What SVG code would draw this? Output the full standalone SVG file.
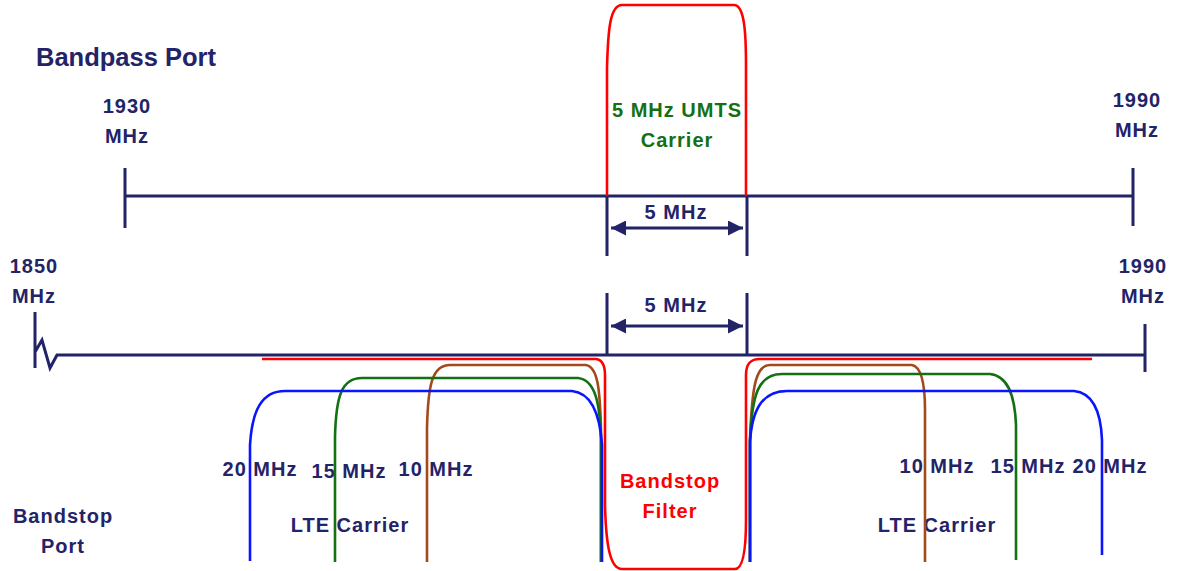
<svg xmlns="http://www.w3.org/2000/svg" width="1186" height="571" viewBox="0 0 1186 571">
<style>
.t{font-family:"Liberation Sans",Arial,sans-serif;font-weight:bold;font-size:20px;letter-spacing:1px;fill:#232368;text-anchor:middle}
.ax{stroke:#232368;stroke-width:3;fill:none}
.c{fill:none;stroke-width:2.6;stroke-linejoin:round}
.r{stroke:#ff0000}.g{stroke:#137013}.b{stroke:#0a14ff}.o{stroke:#a24a1c}
</style>
<defs>
<marker id="ah" viewBox="0 0 10 10" refX="10" refY="5" markerWidth="5" markerHeight="5" orient="auto-start-reverse" markerUnits="strokeWidth">
<path d="M0,0 L10,5 L0,10 z" fill="#232368"/>
</marker>
</defs>
<rect width="1186" height="571" fill="#fff"/>
<g id="labels">
<text x="36" y="66" class="t" style="font-size:25.5px;letter-spacing:0;text-anchor:start">Bandpass Port</text>
<text x="127" y="113" class="t">1930</text>
<text x="127" y="143" class="t">MHz</text>
<text x="1137" y="107" class="t">1990</text>
<text x="1137" y="137" class="t">MHz</text>
<text x="34" y="273" class="t">1850</text>
<text x="34" y="303" class="t">MHz</text>
<text x="1143" y="273" class="t">1990</text>
<text x="1143" y="303" class="t">MHz</text>
<text x="63" y="523" class="t">Bandstop</text>
<text x="63" y="553" class="t">Port</text>
<text x="260" y="476" class="t">20 MHz</text>
<text x="349" y="478" class="t">15 MHz</text>
<text x="436" y="476" class="t">10 MHz</text>
<text x="350" y="532" class="t">LTE Carrier</text>
<text x="937" y="473" class="t">10 MHz</text>
<text x="1028" y="473" class="t">15 MHz</text>
<text x="1110" y="473" class="t">20 MHz</text>
<text x="937" y="532" class="t">LTE Carrier</text>
</g>
<g id="bandpass-axis">
<path class="ax" d="M125,196 H1133 M125,168 V228 M1133,168 V226"/>
</g>
<g id="bandstop-axis">
<path class="ax" d="M35,312 V368 M35,352 L42,340 L50,368 L57,355 H1145 M1145,324 V372"/>
</g>
<g id="umts-carrier">
<path class="c r" d="M607,196 V68 C608,30 610,5 622,5 H734 C744,5 746,30 746,65 V196"/>
<text x="677" y="117" class="t" style="fill:#137013">5 MHz UMTS</text>
<text x="677" y="147" class="t" style="fill:#137013">Carrier</text>
</g>
<g id="dimensions">
<path class="ax" d="M607,196 V256 M747,196 V256 M607,293 V354 M747,293 V354"/>
<line x1="611" y1="228" x2="743" y2="228" stroke="#232368" stroke-width="3" marker-start="url(#ah)" marker-end="url(#ah)"/>
<line x1="611" y1="326" x2="743" y2="326" stroke="#232368" stroke-width="3" marker-start="url(#ah)" marker-end="url(#ah)"/>
<text x="676" y="219" class="t">5 MHz</text>
<text x="676" y="312" class="t">5 MHz</text>
</g>
<g id="bandstop-filter">
<path class="c r" d="M262,359 H596 C603,360 605,366 605,375 V505 C606,545 610,569 622,569 H735 C744,569 746,545 746,520 V375 C746,364 750,359 760,359 H1092"/>
<text x="670" y="488" class="t" style="fill:#ff0000">Bandstop</text>
<text x="670" y="518" class="t" style="fill:#ff0000">Filter</text>
</g>
<g id="lte-10">
<path class="c o" d="M427,562 V428 C428,385 432,365 450,365 H586 C598,367 600,390 601,430 V562"/>
<path class="c o" d="M750,562 V440 C752,385 756,365 770,365 H912 C922,367 925,385 925,410 V562"/>
</g>
<g id="lte-15">
<path class="c g" d="M335,562 V437 C336,395 342,378 362,378 H578 C596,380 600,405 601,440 V562"/>
<path class="c g" d="M750,562 V440 C752,395 758,374 782,374 H990 C1010,376 1015,400 1016,425 V560"/>
</g>
<g id="lte-20">
<path class="c b" d="M250,561 V445 C252,410 262,391 285,391 H572 C592,393 600,415 602,445 V562"/>
<path class="c b" d="M750,562 V442 C752,410 762,391 787,391 H1074 C1095,393 1101,415 1102,440 V555"/>
</g>
</svg>
